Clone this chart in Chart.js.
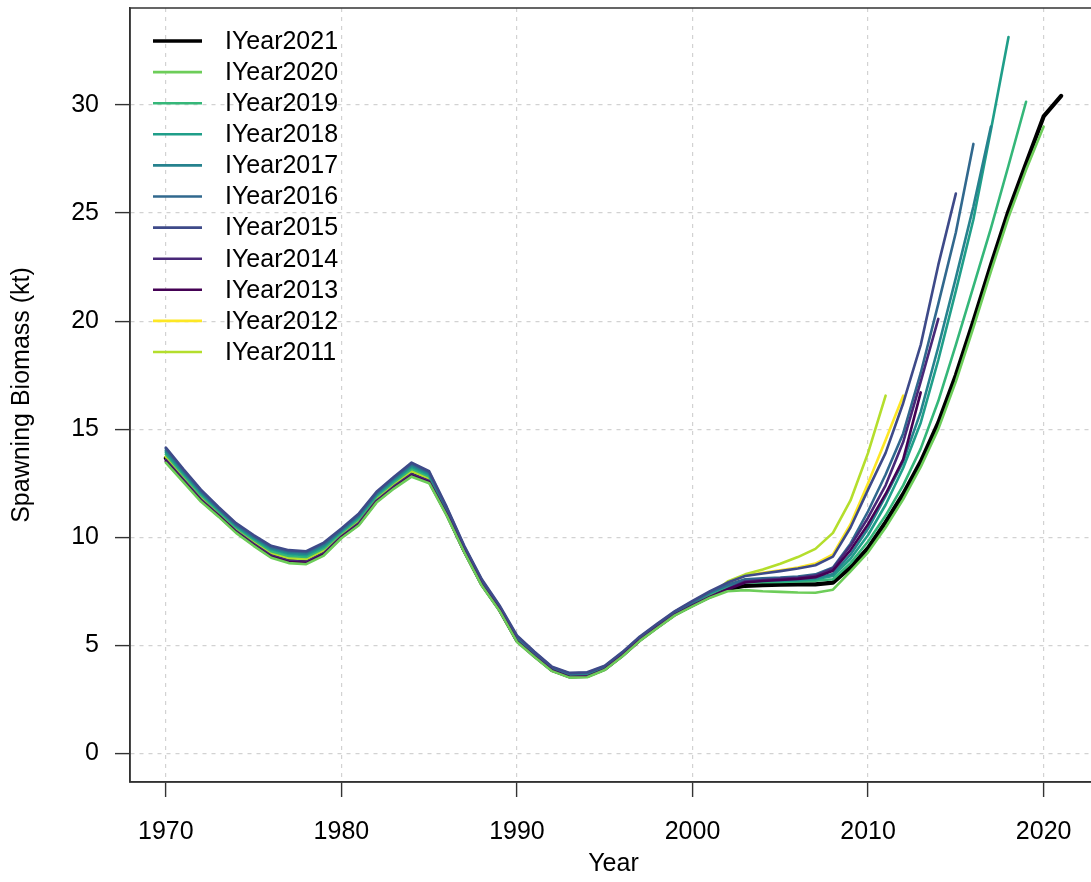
<!DOCTYPE html>
<html>
<head>
<meta charset="utf-8">
<title>Spawning biomass by terminal year</title>
<script src="https://cdn.jsdelivr.net/npm/chart.js@4.4.0/dist/chart.umd.min.js"></script>
<style>
  html, body { margin: 0; padding: 0; background: #fff; overflow: hidden; }
  #wrap { width: 1110px; height: 882px; }
</style>
</head>
<body>
<div id="wrap"><canvas id="biomassChart" width="1110" height="882"></canvas></div>
<script>
const years = [1970, 1971, 1972, 1973, 1974, 1975, 1976, 1977, 1978, 1979,
               1980, 1981, 1982, 1983, 1984, 1985, 1986, 1987, 1988, 1989,
               1990, 1991, 1992, 1993, 1994, 1995, 1996, 1997, 1998, 1999,
               2000, 2001, 2002, 2003, 2004, 2005, 2006, 2007, 2008, 2009,
               2010, 2011, 2012, 2013, 2014, 2015, 2016, 2017, 2018, 2019,
               2020, 2021];
const xTicks = [1970, 1980, 1990, 2000, 2010, 2020];
const yTicks = [0, 5, 10, 15, 20, 25, 30];

// spawning biomass (kt) per run, starting 1970
const iyear2021 = [13.66, 12.73, 11.82, 11.09, 10.34, 9.75, 9.22, 8.98, 8.93, 9.33,
  10.09, 10.72, 11.75, 12.42, 13.00, 12.67, 11.12, 9.39, 7.84, 6.68,
  5.24, 4.53, 3.86, 3.57, 3.59, 3.91, 4.54, 5.26, 5.86, 6.44,
  6.88, 7.29, 7.60, 7.75, 7.78, 7.80, 7.82, 7.82, 7.90, 8.60,
  9.50, 10.70, 12.00, 13.50, 15.30, 17.50, 20.00, 22.60, 25.10, 27.30,
  29.47, 30.42];
const iyear2020 = [13.45, 12.55, 11.65, 10.95, 10.20, 9.60, 9.05, 8.80, 8.75, 9.15,
  9.95, 10.55, 11.60, 12.25, 12.80, 12.50, 11.00, 9.30, 7.75, 6.60,
  5.15, 4.45, 3.80, 3.50, 3.52, 3.85, 4.48, 5.20, 5.80, 6.38,
  6.80, 7.20, 7.50, 7.55, 7.50, 7.47, 7.44, 7.43, 7.57, 8.42,
  9.30, 10.45, 11.75, 13.25, 15.00, 17.20, 19.70, 22.30, 24.80, 27.00,
  29.00];
const iyear2019 = [13.84, 12.88, 11.95, 11.20, 10.45, 9.88, 9.35, 9.13, 9.08, 9.48,
  10.20, 10.85, 11.88, 12.55, 13.16, 12.80, 11.22, 9.47, 7.92, 6.74,
  5.32, 4.59, 3.91, 3.62, 3.65, 3.96, 4.59, 5.31, 5.91, 6.49,
  6.94, 7.37, 7.70, 7.90, 7.92, 7.93, 7.95, 7.98, 8.05, 8.80,
  9.80, 11.00, 12.40, 14.10, 16.30, 18.90, 21.60, 24.30, 27.20, 30.15];
const iyear2018 = [13.94, 12.97, 12.04, 11.27, 10.52, 9.95, 9.44, 9.22, 9.17, 9.57,
  10.27, 10.94, 11.95, 12.64, 13.26, 12.89, 11.28, 9.51, 7.96, 6.78,
  5.36, 4.63, 3.94, 3.65, 3.68, 3.99, 4.62, 5.34, 5.94, 6.52,
  6.98, 7.41, 7.75, 7.95, 7.97, 7.98, 8.00, 8.05, 8.20, 9.00,
  10.10, 11.50, 13.20, 15.30, 18.20, 21.40, 24.70, 28.85, 33.15];
const iyear2017 = [14.01, 13.03, 12.09, 11.31, 10.56, 10.00, 9.49, 9.28, 9.23, 9.63,
  10.31, 10.99, 12.00, 12.69, 13.32, 12.94, 11.32, 9.54, 7.99, 6.80,
  5.39, 4.65, 3.96, 3.68, 3.70, 4.01, 4.64, 5.36, 5.96, 6.54,
  7.00, 7.44, 7.78, 7.98, 8.00, 8.02, 8.05, 8.10, 8.30, 9.20,
  10.40, 11.90, 13.50, 15.80, 18.80, 22.00, 25.30, 29.00];
const iyear2016 = [14.10, 13.10, 12.15, 11.35, 10.60, 10.05, 9.55, 9.35, 9.30, 9.70,
  10.35, 11.05, 12.05, 12.75, 13.40, 13.00, 11.35, 9.55, 8.00, 6.80,
  5.40, 4.66, 3.97, 3.69, 3.72, 4.02, 4.65, 5.37, 5.97, 6.55,
  7.01, 7.46, 7.80, 8.05, 8.10, 8.13, 8.18, 8.28, 8.60, 9.70,
  11.20, 12.90, 14.80, 17.60, 20.80, 24.10, 28.20];
const iyear2015 = [14.15, 13.15, 12.20, 11.40, 10.65, 10.10, 9.60, 9.40, 9.35, 9.75,
  10.40, 11.10, 12.10, 12.80, 13.45, 13.05, 11.40, 9.60, 8.05, 6.85,
  5.45, 4.70, 4.00, 3.72, 3.75, 4.05, 4.68, 5.40, 6.00, 6.58,
  7.05, 7.50, 7.90, 8.20, 8.32, 8.43, 8.55, 8.70, 9.10, 10.45,
  12.20, 13.90, 16.20, 18.90, 22.60, 25.90];
const iyear2014 = [13.58, 12.66, 11.75, 11.03, 10.28, 9.69, 9.15, 8.91, 8.86, 9.26,
  10.03, 10.65, 11.69, 12.35, 12.92, 12.60, 11.07, 9.35, 7.80, 6.65,
  5.20, 4.50, 3.84, 3.54, 3.56, 3.89, 4.52, 5.24, 5.84, 6.42,
  6.85, 7.25, 7.60, 7.95, 8.02, 8.07, 8.12, 8.22, 8.55, 9.60,
  10.90, 12.40, 14.40, 17.20, 20.10];
const iyear2013 = [13.51, 12.60, 11.69, 10.99, 10.24, 9.64, 9.09, 8.85, 8.80, 9.20,
  9.99, 10.59, 11.64, 12.29, 12.85, 12.54, 11.03, 9.32, 7.77, 6.62,
  5.17, 4.47, 3.82, 3.52, 3.54, 3.87, 4.50, 5.22, 5.82, 6.40,
  6.82, 7.22, 7.58, 7.90, 7.97, 8.02, 8.07, 8.15, 8.45, 9.40,
  10.60, 12.00, 13.60, 16.70];
const iyear2012 = [13.74, 12.80, 11.88, 11.14, 10.39, 9.81, 9.28, 9.05, 9.00, 9.40,
  10.14, 10.78, 11.81, 12.48, 13.07, 12.73, 11.17, 9.43, 7.88, 6.71,
  5.28, 4.56, 3.88, 3.59, 3.62, 3.93, 4.56, 5.28, 5.88, 6.46,
  6.91, 7.33, 7.88, 8.22, 8.35, 8.47, 8.60, 8.78, 9.20, 10.60,
  12.50, 14.50, 16.55];
const iyear2011 = [13.72, 12.78, 11.86, 11.12, 10.37, 9.79, 9.26, 9.03, 8.98, 9.38,
  10.12, 10.76, 11.79, 12.46, 13.05, 12.71, 11.15, 9.41, 7.86, 6.70,
  5.26, 4.55, 3.88, 3.58, 3.61, 3.93, 4.56, 5.28, 5.88, 6.46,
  6.90, 7.31, 7.95, 8.28, 8.50, 8.77, 9.08, 9.46, 10.20, 11.70,
  13.90, 16.55];

const runLabels = ['IYear2021', 'IYear2020', 'IYear2019', 'IYear2018', 'IYear2017', 'IYear2016',
                   'IYear2015', 'IYear2014', 'IYear2013', 'IYear2012', 'IYear2011'];
const runValues = [iyear2021, iyear2020, iyear2019, iyear2018, iyear2017, iyear2016,
                   iyear2015, iyear2014, iyear2013, iyear2012, iyear2011];
const runColors = ['#000000', '#6DCD59', '#35B779', '#1F9E89', '#26828E', '#31688E',
                   '#3E4A89', '#482878', '#440154', '#FDE725', '#B4DE2C'];
// higher layer = painted earlier (further back)
const runLayer = [10, -1, 6, 5, 4, 3, 2, 1, 0, 9, 8];

const FONT = "'Liberation Sans', Arial, Helvetica, sans-serif";
Chart.defaults.font.family = FONT;
Chart.defaults.font.size = 25;
Chart.defaults.color = '#000';

const datasets = runLabels.map((label, i) => ({
  label: label,
  data: runValues[i].map((v, j) => ({ x: years[j], y: v })),
  borderColor: runColors[i],
  backgroundColor: runColors[i],
  borderWidth: i === 0 ? 4.2 : 2.6,
  pointRadius: 0,
  tension: 0,
  fill: false,
  borderCapStyle: 'round',
  borderJoinStyle: 'round',
  order: runLayer[i]
}));

// full box around the plotting region
const frameBox = {
  id: 'frameBox',
  afterDatasetsDraw(chart) {
    const { ctx, chartArea: a } = chart;
    ctx.save();
    ctx.strokeStyle = '#333';
    ctx.lineWidth = 1.5;
    ctx.strokeRect(a.left, a.top, a.right - a.left, a.bottom - a.top);
    ctx.restore();
  }
};

// legend in the top-left corner, no box
const cornerLegend = {
  id: 'cornerLegend',
  afterDraw(chart) {
    const { ctx, chartArea: a } = chart;
    ctx.save();
    ctx.font = '25px ' + FONT;
    ctx.textBaseline = 'middle';
    ctx.textAlign = 'left';
    chart.data.datasets.forEach((ds, i) => {
      const y = a.top + 33 + i * 31.1;
      ctx.strokeStyle = ds.borderColor;
      ctx.lineWidth = i === 0 ? 3.6 : 2.6;
      ctx.lineCap = 'butt';
      ctx.beginPath();
      ctx.moveTo(a.left + 23, y);
      ctx.lineTo(a.left + 72, y);
      ctx.stroke();
      ctx.fillStyle = '#000';
      ctx.fillText(ds.label, a.left + 95, y + 1);
    });
    ctx.restore();
  }
};

new Chart(document.getElementById('biomassChart'), {
  type: 'line',
  data: { datasets: datasets },
  options: {
    responsive: false,
    animation: false,
    events: [],
    layout: { padding: { left: 0, top: 8, right: 13, bottom: 0 } },
    plugins: { legend: { display: false }, tooltip: { enabled: false } },
    scales: {
      x: {
        type: 'linear',
        min: 1967.96,
        max: 2023.04,
        afterBuildTicks: s => { s.ticks = xTicks.map(v => ({ value: v })); },
        afterFit: s => { s.height = 100; s.paddingLeft = 0; s.paddingRight = 0; },
        ticks: { autoSkip: false, maxRotation: 0, padding: 20, color: '#000',
                 callback: v => String(v) },
        grid: { color: '#d2d2d2', lineWidth: 1.2, drawTicks: true, tickLength: 15,
                tickColor: '#333', tickWidth: 1.4 },
        border: { display: true, color: '#333', width: 1.5, dash: [4, 5] },
        title: { display: true, text: 'Year', color: '#000', padding: { top: 0, bottom: 3 } }
      },
      y: {
        type: 'linear',
        min: -1.33,
        max: 34.49,
        afterBuildTicks: s => { s.ticks = yTicks.map(v => ({ value: v })); },
        afterFit: s => { s.width = 130; s.paddingTop = 0; s.paddingBottom = 0; },
        ticks: { padding: 16, color: '#000', callback: v => String(v) },
        grid: { color: '#d2d2d2', lineWidth: 1.2, drawTicks: true, tickLength: 15,
                tickColor: '#333', tickWidth: 1.4 },
        border: { display: true, color: '#333', width: 1.5, dash: [4, 5] },
        title: { display: true, text: 'Spawning Biomass (kt)', color: '#000',
                 padding: { top: 7, bottom: 0 } }
      }
    }
  },
  plugins: [frameBox, cornerLegend]
});
</script>
</body>
</html>
